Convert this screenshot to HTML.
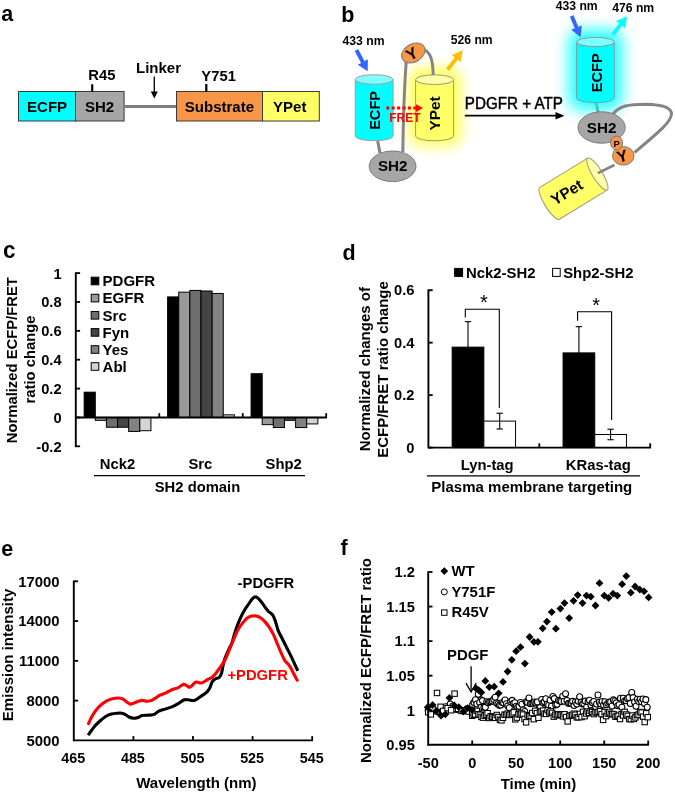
<!DOCTYPE html><html><head><meta charset="utf-8"><style>html,body{margin:0;padding:0;background:#fff;}svg{display:block;font-family:"Liberation Sans", sans-serif;filter:blur(0.4px);}</style></head><body><svg width="675" height="795" viewBox="0 0 675 795"><rect width="675" height="795" fill="#fff"/><text x="1.3" y="21.0" font-size="21.5" font-weight="bold" text-anchor="start" fill="#000">a</text>
<rect x="18.5" y="91.5" width="57" height="29.5" fill="#00FFFF" stroke="#3a3a3a" stroke-width="1"/>
<rect x="75.5" y="91.5" width="48.6" height="29.5" fill="#A6A6A6" stroke="#3a3a3a" stroke-width="1"/>
<line x1="124.1" y1="106.5" x2="176.5" y2="106.5" stroke="#7f7f7f" stroke-width="3.2"/>
<rect x="176.5" y="91.5" width="86" height="29.5" fill="#F79646" stroke="#3a3a3a" stroke-width="1"/>
<rect x="262.5" y="91.5" width="56.8" height="29.5" fill="#FFFF66" stroke="#3a3a3a" stroke-width="1"/>
<text x="47.1" y="111.8" font-size="15.0" font-weight="bold" text-anchor="middle" fill="#000">ECFP</text>
<text x="99.6" y="111.8" font-size="15.0" font-weight="bold" text-anchor="middle" fill="#000">SH2</text>
<text x="219.4" y="111.8" font-size="15.0" font-weight="bold" text-anchor="middle" fill="#000">Substrate</text>
<text x="289.8" y="111.8" font-size="15.0" font-weight="bold" text-anchor="middle" fill="#000">YPet</text>
<text x="101.8" y="80.4" font-size="14.8" font-weight="bold" text-anchor="middle" fill="#000">R45</text>
<line x1="92.2" y1="84.3" x2="92.2" y2="91.5" stroke="#000" stroke-width="2.2"/>
<text x="158.5" y="72.8" font-size="15.0" font-weight="bold" text-anchor="middle" fill="#000">Linker</text>
<line x1="154.3" y1="76.5" x2="154.3" y2="92" stroke="#000" stroke-width="1.3"/>
<path d="M150.8,91.5 L157.8,91.5 L154.3,98.5 Z" fill="#000" stroke="none" stroke-width="1"/>
<text x="218.6" y="80.5" font-size="14.8" font-weight="bold" text-anchor="middle" fill="#000">Y751</text>
<line x1="206.3" y1="84.0" x2="206.3" y2="91.5" stroke="#000" stroke-width="2.2"/>
<text x="341.3" y="22.2" font-size="21.5" font-weight="bold" text-anchor="start" fill="#000">b</text>
<defs><filter id="gl" x="-50%" y="-50%" width="200%" height="200%"><feGaussianBlur stdDeviation="7"/></filter><filter id="gl2" x="-50%" y="-50%" width="200%" height="200%"><feGaussianBlur stdDeviation="7.5"/></filter></defs>
<path d="M595.7,101 L598.3,113" fill="none" stroke="#858585" stroke-width="3"/>
<rect x="409" y="68" width="52" height="78" fill="#FFFF40" stroke="none" stroke-width="1" rx="12" filter="url(#gl)" opacity="0.9"/>
<rect x="569" y="30" width="53" height="80" fill="#00FFFF" stroke="none" stroke-width="1" rx="12" filter="url(#gl2)" opacity="0.9"/>
<path d="M377.3,139 L380,153" fill="none" stroke="#858585" stroke-width="3"/>
<path d="M406.2,61 Q403.5,100 402.8,152" fill="none" stroke="#858585" stroke-width="3"/>
<path d="M422.5,48.5 C430,52 433.2,58 433.2,77" fill="none" stroke="#858585" stroke-width="3"/>
<path d="M355.2,79.5 L355.2,136 A18.950000000000017,4.8 0 0 0 393.1,136 L393.1,79.5 Z" fill="#00FFFF" stroke="#b09a9a" stroke-width="1"/>
<ellipse cx="374.15" cy="79.5" rx="18.950000000000017" ry="4.8" fill="#7FFFFF" stroke="#b09a9a" stroke-width="1"/>
<path d="M415.6,79.7 L415.6,136 A19.0,4.8 0 0 0 453.6,136 L453.6,79.7 Z" fill="#FFFF66" stroke="#9a9a80" stroke-width="1"/>
<ellipse cx="434.6" cy="79.7" rx="19.0" ry="4.8" fill="#FFFFAA" stroke="#9a9a80" stroke-width="1"/>
<ellipse cx="392.6" cy="166.3" rx="23.4" ry="15.3" fill="#A6A6A6" stroke="#7a7a7a" stroke-width="1"/>
<text x="392.7" y="171.3" font-size="15.2" font-weight="bold" text-anchor="middle" fill="#000">SH2</text>
<ellipse cx="413.3" cy="53" rx="12.5" ry="9" fill="#F79646" stroke="#7a7a7a" stroke-width="1" transform="rotate(-30 413.3 53)"/>
<text x="414.6" y="58.6" font-size="16" font-weight="bold" text-anchor="middle" fill="#000" transform="rotate(-30 414.6 58.6)">Y</text>
<text x="380.2" y="110.4" font-size="14.6" font-weight="bold" text-anchor="middle" fill="#000" transform="rotate(-90 380.2 110.4)">ECFP</text>
<text x="440.2" y="113.5" font-size="15.4" font-weight="bold" text-anchor="middle" fill="#000" transform="rotate(-90 440.2 113.5)">YPet</text>
<path d="M354.68,50.91 L361.06,62.94 L357.70,64.72 L367.70,71.30 L367.86,59.33 L364.50,61.11 L358.12,49.09 Z" fill="#3366FF" stroke="none" stroke-width="1"/>
<text x="342.5" y="44.6" font-size="12.2" font-weight="bold" text-anchor="start" fill="#000">433 nm</text>
<text x="450.7" y="44.3" font-size="12.2" font-weight="bold" text-anchor="start" fill="#000">526 nm</text>
<path d="M449.14,70.90 L457.79,59.78 L460.79,62.12 L462.70,50.30 L451.71,55.05 L454.71,57.39 L446.06,68.50 Z" fill="#FFC000" stroke="none" stroke-width="1"/>
<line x1="386.3" y1="108.1" x2="416" y2="108.1" stroke="#FF0000" stroke-width="3" stroke-dasharray="3 2.4"/>
<path d="M416,104.2 L423,108.1 L416,112 Z" fill="#FF0000" stroke="none" stroke-width="1"/>
<text x="389.2" y="122.3" font-size="12" font-weight="bold" text-anchor="start" fill="#FF0000">FRET</text>
<text x="0" y="0" font-size="15.2" font-weight="normal" text-anchor="start" fill="#000" transform="translate(464.8 108.6) scale(1.0 1.08)" stroke="#000" stroke-width="0.45">PDGFR + ATP</text>
<line x1="464.8" y1="115.7" x2="557" y2="115.7" stroke="#000" stroke-width="1.8"/>
<path d="M555.5,111.9 L564.5,115.7 L555.5,119.5 Z" fill="#000" stroke="none" stroke-width="1"/>
<path d="M613,114 C620,105.5 628,104.5 646,104.2 C660,104.5 671.5,107 671.5,114 C671,122 660,131 634.5,152.5" fill="none" stroke="#858585" stroke-width="3"/>
<path d="M576.6,42 L576.6,98 A18.849999999999966,4.6 0 0 0 614.3,98 L614.3,42 Z" fill="#00FFFF" stroke="#8c9a9a" stroke-width="1"/>
<ellipse cx="595.45" cy="42" rx="18.849999999999966" ry="4.6" fill="#7FFFFF" stroke="#8c9a9a" stroke-width="1"/>
<text x="602.4" y="72.7" font-size="14.6" font-weight="bold" text-anchor="middle" fill="#000" transform="rotate(-90 602.4 72.7)">ECFP</text>
<text x="555.7" y="10.3" font-size="12.2" font-weight="bold" text-anchor="start" fill="#000">433 nm</text>
<text x="612.2" y="12.1" font-size="12.2" font-weight="bold" text-anchor="start" fill="#000">476 nm</text>
<path d="M569.90,16.75 L574.75,28.36 L571.25,29.83 L580.60,37.30 L581.86,25.39 L578.35,26.86 L573.50,15.25 Z" fill="#3366FF" stroke="none" stroke-width="1"/>
<path d="M614.13,35.91 L622.11,25.84 L625.09,28.20 L627.10,16.40 L616.07,21.06 L619.05,23.42 L611.07,33.49 Z" fill="#00FFFF" stroke="none" stroke-width="1"/>
<ellipse cx="601.6" cy="127.5" rx="23.6" ry="15.7" fill="#A6A6A6" stroke="#7a7a7a" stroke-width="1"/>
<text x="601.6" y="132.6" font-size="15.2" font-weight="bold" text-anchor="middle" fill="#000">SH2</text>
<path d="M597.9,173.2 L614.5,165" fill="none" stroke="#858585" stroke-width="2.6"/>
<g transform="translate(597.4 174.1) rotate(-31.4)">
<path d="M0,-18.7 L-56,-18.7 A5,18.7 0 0 0 -56,18.7 L0,18.7 Z" fill="#FFFF66" stroke="#9a9a80" stroke-width="1"/>
<ellipse cx="0" cy="0" rx="5" ry="18.7" fill="#FFFFAA" stroke="#9a9a80" stroke-width="1"/>
</g>
<path d="M597.9,173.2 L604,170.2" fill="none" stroke="#858585" stroke-width="2.6"/>
<text x="569.6" y="196.8" font-size="15.4" font-weight="bold" text-anchor="middle" fill="#000" transform="rotate(-31.4 569.6 196.8)">YPet</text>
<ellipse cx="623.3" cy="155.8" rx="10.8" ry="9.3" fill="#F79646" stroke="#7a7a7a" stroke-width="1"/>
<ellipse cx="616.6" cy="143" rx="6" ry="6.9" fill="#F79646" stroke="#7a7a7a" stroke-width="1"/>
<text x="616.6" y="146.6" font-size="9.5" font-weight="bold" text-anchor="middle" fill="#000">P</text>
<text x="623.6" y="161.3" font-size="16" font-weight="bold" text-anchor="middle" fill="#000" transform="rotate(-15 623.6 161.3)">Y</text>
<text x="0" y="0" font-size="22.5" font-weight="bold" text-anchor="start" fill="#000" transform="translate(3.0 257.8) scale(1.0 1.08)">c</text>
<rect x="84.15" y="392.18" width="11.13" height="25.26" fill="#000000" stroke="#000" stroke-width="1"/>
<rect x="95.28" y="417.43" width="11.13" height="2.89" fill="#9a9a9a" stroke="#000" stroke-width="1"/>
<rect x="106.4" y="417.43" width="11.13" height="9.81" fill="#6e6e6e" stroke="#000" stroke-width="1"/>
<rect x="117.53" y="417.43" width="11.13" height="9.81" fill="#454545" stroke="#000" stroke-width="1"/>
<rect x="128.66" y="417.43" width="11.13" height="14.0" fill="#828282" stroke="#000" stroke-width="1"/>
<rect x="139.79" y="417.43" width="11.13" height="13.28" fill="#d4d4d4" stroke="#000" stroke-width="1"/>
<rect x="167.61" y="296.92" width="11.13" height="120.52" fill="#000000" stroke="#000" stroke-width="1"/>
<rect x="178.74" y="292.15" width="11.13" height="125.28" fill="#9a9a9a" stroke="#000" stroke-width="1"/>
<rect x="189.87" y="290.42" width="11.13" height="127.01" fill="#6e6e6e" stroke="#000" stroke-width="1"/>
<rect x="201.0" y="291.0" width="11.13" height="126.44" fill="#454545" stroke="#000" stroke-width="1"/>
<rect x="212.13" y="293.45" width="11.13" height="123.98" fill="#828282" stroke="#000" stroke-width="1"/>
<rect x="223.26" y="414.84" width="11.13" height="2.6" fill="#d4d4d4" stroke="#000" stroke-width="1"/>
<rect x="251.08" y="373.7" width="11.13" height="43.73" fill="#000000" stroke="#000" stroke-width="1"/>
<rect x="262.21" y="417.43" width="11.13" height="7.22" fill="#9a9a9a" stroke="#000" stroke-width="1"/>
<rect x="273.34" y="417.43" width="11.13" height="10.1" fill="#6e6e6e" stroke="#000" stroke-width="1"/>
<rect x="284.47" y="417.43" width="11.13" height="2.89" fill="#454545" stroke="#000" stroke-width="1"/>
<rect x="295.6" y="417.43" width="11.13" height="10.1" fill="#828282" stroke="#000" stroke-width="1"/>
<rect x="306.72" y="417.43" width="11.13" height="6.5" fill="#d4d4d4" stroke="#000" stroke-width="1"/>
<line x1="75.8" y1="272.35" x2="75.8" y2="447.05" stroke="#000" stroke-width="1.9"/>
<line x1="75.8" y1="273.1" x2="80.1" y2="273.1" stroke="#000" stroke-width="1.8"/>
<line x1="75.8" y1="301.9666666666667" x2="80.1" y2="301.9666666666667" stroke="#000" stroke-width="1.8"/>
<line x1="75.8" y1="330.83333333333337" x2="80.1" y2="330.83333333333337" stroke="#000" stroke-width="1.8"/>
<line x1="75.8" y1="359.70000000000005" x2="80.1" y2="359.70000000000005" stroke="#000" stroke-width="1.8"/>
<line x1="75.8" y1="388.5666666666667" x2="80.1" y2="388.5666666666667" stroke="#000" stroke-width="1.8"/>
<line x1="75.8" y1="417.4333333333334" x2="80.1" y2="417.4333333333334" stroke="#000" stroke-width="1.8"/>
<line x1="75.8" y1="446.30000000000007" x2="80.1" y2="446.30000000000007" stroke="#000" stroke-width="1.8"/>
<text x="0" y="0" font-size="14.7" font-weight="bold" text-anchor="end" fill="#000" transform="translate(61.6 278.5) scale(1.0 1.02)">1</text>
<text x="0" y="0" font-size="14.7" font-weight="bold" text-anchor="end" fill="#000" transform="translate(61.6 307.3666666666667) scale(1.0 1.02)">0.8</text>
<text x="0" y="0" font-size="14.7" font-weight="bold" text-anchor="end" fill="#000" transform="translate(61.6 336.23333333333335) scale(1.0 1.02)">0.6</text>
<text x="0" y="0" font-size="14.7" font-weight="bold" text-anchor="end" fill="#000" transform="translate(61.6 365.1) scale(1.0 1.02)">0.4</text>
<text x="0" y="0" font-size="14.7" font-weight="bold" text-anchor="end" fill="#000" transform="translate(61.6 393.9666666666667) scale(1.0 1.02)">0.2</text>
<text x="0" y="0" font-size="14.7" font-weight="bold" text-anchor="end" fill="#000" transform="translate(61.6 422.83333333333337) scale(1.0 1.02)">0</text>
<text x="0" y="0" font-size="14.7" font-weight="bold" text-anchor="end" fill="#000" transform="translate(61.6 451.70000000000005) scale(1.0 1.02)">-0.2</text>
<line x1="75.8" y1="417.4333333333334" x2="326.95" y2="417.4333333333334" stroke="#000" stroke-width="1.9"/>
<line x1="159.26666666666665" y1="417.4333333333334" x2="159.26666666666665" y2="413.1333333333334" stroke="#000" stroke-width="1.8"/>
<line x1="242.7333333333333" y1="417.4333333333334" x2="242.7333333333333" y2="413.1333333333334" stroke="#000" stroke-width="1.8"/>
<line x1="326.2" y1="417.4333333333334" x2="326.2" y2="413.1333333333334" stroke="#000" stroke-width="1.8"/>
<rect x="91.2" y="277.2" width="7.6" height="7.6" fill="#000000" stroke="#000" stroke-width="1"/>
<text x="102.6" y="286.2" font-size="15.0" font-weight="bold" text-anchor="start" fill="#000">PDGFR</text>
<rect x="91.2" y="294.3" width="7.6" height="7.6" fill="#9a9a9a" stroke="#000" stroke-width="1"/>
<text x="102.6" y="303.3" font-size="15.0" font-weight="bold" text-anchor="start" fill="#000">EGFR</text>
<rect x="91.2" y="311.5" width="7.6" height="7.6" fill="#6e6e6e" stroke="#000" stroke-width="1"/>
<text x="102.6" y="320.5" font-size="15.0" font-weight="bold" text-anchor="start" fill="#000">Src</text>
<rect x="91.2" y="328.59999999999997" width="7.6" height="7.6" fill="#454545" stroke="#000" stroke-width="1"/>
<text x="102.6" y="337.59999999999997" font-size="15.0" font-weight="bold" text-anchor="start" fill="#000">Fyn</text>
<rect x="91.2" y="345.7" width="7.6" height="7.6" fill="#828282" stroke="#000" stroke-width="1"/>
<text x="102.6" y="354.7" font-size="15.0" font-weight="bold" text-anchor="start" fill="#000">Yes</text>
<rect x="91.2" y="362.7" width="7.6" height="7.6" fill="#d4d4d4" stroke="#000" stroke-width="1"/>
<text x="102.6" y="371.7" font-size="15.0" font-weight="bold" text-anchor="start" fill="#000">Abl</text>
<text x="17.0" y="360.2" font-size="14.8" font-weight="bold" text-anchor="middle" fill="#000" transform="rotate(-90 17.0 360.2)">Normalized ECFP/FRET</text>
<text x="35.4" y="359.5" font-size="14.8" font-weight="bold" text-anchor="middle" fill="#000" transform="rotate(-90 35.4 359.5)">ratio change</text>
<text x="117.5" y="468.9" font-size="14.8" font-weight="bold" text-anchor="middle" fill="#000">Nck2</text>
<text x="200.4" y="468.9" font-size="14.8" font-weight="bold" text-anchor="middle" fill="#000">Src</text>
<text x="283.7" y="468.9" font-size="14.8" font-weight="bold" text-anchor="middle" fill="#000">Shp2</text>
<line x1="94" y1="475.6" x2="305" y2="475.6" stroke="#000" stroke-width="1.3"/>
<text x="197.5" y="491.9" font-size="14.8" font-weight="bold" text-anchor="middle" fill="#000">SH2 domain</text>
<text x="342.6" y="259.8" font-size="21.5" font-weight="bold" text-anchor="start" fill="#000">d</text>
<rect x="452.16" y="347.13" width="31.69" height="100.47" fill="#000" stroke="#000" stroke-width="1"/>
<rect x="483.85" y="421.1" width="31.69" height="26.5" fill="#fff" stroke="#000" stroke-width="1"/>
<line x1="468.00714285714287" y1="347.1263333333333" x2="468.00714285714287" y2="321.67999999999995" stroke="#000" stroke-width="1.1"/>
<line x1="464.8071428571429" y1="321.67999999999995" x2="471.20714285714286" y2="321.67999999999995" stroke="#000" stroke-width="1.1"/>
<line x1="499.6928571428572" y1="428.97433333333333" x2="499.6928571428572" y2="413.2343333333333" stroke="#000" stroke-width="1.1"/>
<line x1="496.4928571428572" y1="413.2343333333333" x2="502.89285714285717" y2="413.2343333333333" stroke="#000" stroke-width="1.1"/>
<line x1="496.4928571428572" y1="428.97433333333333" x2="502.89285714285717" y2="428.97433333333333" stroke="#000" stroke-width="1.1"/>
<rect x="563.06" y="352.9" width="31.69" height="94.7" fill="#000" stroke="#000" stroke-width="1"/>
<rect x="594.75" y="434.48" width="31.69" height="13.12" fill="#fff" stroke="#000" stroke-width="1"/>
<line x1="578.9071428571428" y1="352.8976666666666" x2="578.9071428571428" y2="326.66433333333333" stroke="#000" stroke-width="1.1"/>
<line x1="575.7071428571428" y1="326.66433333333333" x2="582.1071428571429" y2="326.66433333333333" stroke="#000" stroke-width="1.1"/>
<line x1="610.5928571428572" y1="439.73" x2="610.5928571428572" y2="429.2366666666667" stroke="#000" stroke-width="1.1"/>
<line x1="607.3928571428571" y1="429.2366666666667" x2="613.7928571428572" y2="429.2366666666667" stroke="#000" stroke-width="1.1"/>
<line x1="607.3928571428571" y1="439.73" x2="613.7928571428572" y2="439.73" stroke="#000" stroke-width="1.1"/>
<path d="M465.3,317.6 L465.3,309.2 L499.3,309.2 L499.3,408" fill="none" stroke="#000" stroke-width="1.1"/>
<path d="M577.6,320.8 L577.6,311.7 L611.6,311.7 L611.6,420" fill="none" stroke="#000" stroke-width="1.1"/>
<text x="483.9" y="308.9" font-size="20" font-weight="normal" text-anchor="middle" fill="#000">*</text>
<text x="596.2" y="312.0" font-size="20" font-weight="normal" text-anchor="middle" fill="#000">*</text>
<line x1="428.4" y1="289.45" x2="428.4" y2="448.35" stroke="#000" stroke-width="1.9"/>
<line x1="428.4" y1="290.2" x2="432.7" y2="290.2" stroke="#000" stroke-width="1.8"/>
<line x1="428.4" y1="342.6666666666667" x2="432.7" y2="342.6666666666667" stroke="#000" stroke-width="1.8"/>
<line x1="428.4" y1="395.1333333333334" x2="432.7" y2="395.1333333333334" stroke="#000" stroke-width="1.8"/>
<line x1="428.4" y1="447.6" x2="432.7" y2="447.6" stroke="#000" stroke-width="1.8"/>
<text x="0" y="0" font-size="14.7" font-weight="bold" text-anchor="end" fill="#000" transform="translate(414.4 295.4) scale(1.0 1.02)">0.6</text>
<text x="0" y="0" font-size="14.7" font-weight="bold" text-anchor="end" fill="#000" transform="translate(414.4 347.8666666666667) scale(1.0 1.02)">0.4</text>
<text x="0" y="0" font-size="14.7" font-weight="bold" text-anchor="end" fill="#000" transform="translate(414.4 400.33333333333337) scale(1.0 1.02)">0.2</text>
<text x="0" y="0" font-size="14.7" font-weight="bold" text-anchor="end" fill="#000" transform="translate(414.4 452.8) scale(1.0 1.02)">0</text>
<line x1="428.4" y1="447.6" x2="650.95" y2="447.6" stroke="#000" stroke-width="1.9"/>
<line x1="539.3" y1="447.6" x2="539.3" y2="443.3" stroke="#000" stroke-width="1.8"/>
<line x1="650.2" y1="447.6" x2="650.2" y2="443.3" stroke="#000" stroke-width="1.8"/>
<rect x="454.6" y="268.4" width="8" height="8" fill="#000" stroke="#000" stroke-width="1"/>
<text x="466" y="277.8" font-size="14.9" font-weight="bold" text-anchor="start" fill="#000">Nck2-SH2</text>
<rect x="552.6" y="268.4" width="7.6" height="8" fill="#fff" stroke="#000" stroke-width="1"/>
<text x="563.2" y="277.8" font-size="14.9" font-weight="bold" text-anchor="start" fill="#000">Shp2-SH2</text>
<text x="370.2" y="369.2" font-size="15.0" font-weight="bold" text-anchor="middle" fill="#000" transform="rotate(-90 370.2 369.2)">Normalized changes of</text>
<text x="387.6" y="369.5" font-size="15.0" font-weight="bold" text-anchor="middle" fill="#000" transform="rotate(-90 387.6 369.5)">ECFP/FRET ratio change</text>
<text x="487.2" y="469.6" font-size="14.8" font-weight="bold" text-anchor="middle" fill="#000">Lyn-tag</text>
<text x="598.3" y="469.6" font-size="14.8" font-weight="bold" text-anchor="middle" fill="#000">KRas-tag</text>
<line x1="427" y1="475.8" x2="640" y2="475.8" stroke="#000" stroke-width="1.3"/>
<text x="531.8" y="492.3" font-size="15.0" font-weight="bold" text-anchor="middle" fill="#000">Plasma membrane targeting</text>
<text x="1.2" y="556.3" font-size="21.5" font-weight="bold" text-anchor="start" fill="#000">e</text>
<line x1="73.8" y1="581.3" x2="78.1" y2="581.3" stroke="#000" stroke-width="1.8"/>
<text x="59.6" y="586.5999999999999" font-size="14.9" font-weight="bold" text-anchor="end" fill="#000">17000</text>
<line x1="73.8" y1="621.0749999999999" x2="78.1" y2="621.0749999999999" stroke="#000" stroke-width="1.8"/>
<text x="59.6" y="626.3749999999999" font-size="14.9" font-weight="bold" text-anchor="end" fill="#000">14000</text>
<line x1="73.8" y1="660.8499999999999" x2="78.1" y2="660.8499999999999" stroke="#000" stroke-width="1.8"/>
<text x="59.6" y="666.1499999999999" font-size="14.9" font-weight="bold" text-anchor="end" fill="#000">11000</text>
<line x1="73.8" y1="700.625" x2="78.1" y2="700.625" stroke="#000" stroke-width="1.8"/>
<text x="59.6" y="705.925" font-size="14.9" font-weight="bold" text-anchor="end" fill="#000">8000</text>
<text x="59.6" y="745.6999999999999" font-size="14.9" font-weight="bold" text-anchor="end" fill="#000">5000</text>
<line x1="73.8" y1="580.55" x2="73.8" y2="741.15" stroke="#000" stroke-width="1.9"/>
<line x1="73.05" y1="740.4" x2="312.95" y2="740.4" stroke="#000" stroke-width="1.9"/>
<text x="73.3" y="763.2" font-size="14.3" font-weight="bold" text-anchor="middle" fill="#000">465</text>
<line x1="133.4" y1="740.4" x2="133.4" y2="736.1" stroke="#000" stroke-width="1.8"/>
<text x="132.9" y="763.2" font-size="14.3" font-weight="bold" text-anchor="middle" fill="#000">485</text>
<line x1="193.0" y1="740.4" x2="193.0" y2="736.1" stroke="#000" stroke-width="1.8"/>
<text x="192.5" y="763.2" font-size="14.3" font-weight="bold" text-anchor="middle" fill="#000">505</text>
<line x1="252.6" y1="740.4" x2="252.6" y2="736.1" stroke="#000" stroke-width="1.8"/>
<text x="252.1" y="763.2" font-size="14.3" font-weight="bold" text-anchor="middle" fill="#000">525</text>
<line x1="312.2" y1="740.4" x2="312.2" y2="736.1" stroke="#000" stroke-width="1.8"/>
<text x="311.7" y="763.2" font-size="14.3" font-weight="bold" text-anchor="middle" fill="#000">545</text>
<text x="12.7" y="654.9" font-size="15" font-weight="bold" text-anchor="middle" fill="#000" transform="rotate(-90 12.7 654.9)">Emission intensity</text>
<text x="196.4" y="788.2" font-size="15" font-weight="bold" text-anchor="middle" fill="#000">Wavelength (nm)</text>
<path d="M88.10,735.10 C88.60,734.42 90.00,732.48 91.10,731.00 C92.20,729.52 93.32,727.78 94.70,726.20 C96.08,724.62 97.63,723.08 99.40,721.50 C101.17,719.92 103.32,717.93 105.30,716.70 C107.28,715.47 109.32,714.68 111.30,714.10 C113.28,713.52 115.43,713.35 117.20,713.20 C118.97,713.05 120.52,712.97 121.90,713.20 C123.28,713.43 124.32,713.97 125.50,714.60 C126.68,715.23 127.62,716.38 129.00,717.00 C130.38,717.62 132.42,718.18 133.80,718.30 C135.18,718.42 135.92,718.15 137.30,717.70 C138.68,717.25 140.52,716.02 142.10,715.60 C143.68,715.18 145.22,715.30 146.80,715.20 C148.38,715.10 150.22,715.23 151.60,715.00 C152.98,714.77 153.92,714.45 155.10,713.80 C156.28,713.15 157.32,711.80 158.70,711.10 C160.08,710.40 161.20,710.30 163.40,709.60 C165.60,708.90 169.50,707.85 171.90,706.90 C174.30,705.95 175.83,705.05 177.80,703.90 C179.77,702.75 181.93,700.68 183.70,700.00 C185.47,699.32 186.62,699.73 188.40,699.80 C190.18,699.87 192.42,700.90 194.40,700.40 C196.38,699.90 198.33,698.08 200.30,696.80 C202.27,695.52 204.62,694.18 206.20,692.70 C207.78,691.22 208.82,689.68 209.80,687.90 C210.78,686.12 211.22,683.48 212.10,682.00 C212.98,680.52 213.90,679.78 215.10,679.00 C216.30,678.22 218.22,678.28 219.30,677.30 C220.38,676.32 221.02,674.88 221.60,673.10 C222.18,671.32 222.30,668.87 222.80,666.60 C223.30,664.33 223.90,661.67 224.60,659.50 C225.30,657.33 226.18,655.52 227.00,653.60 C227.82,651.68 228.65,649.85 229.50,648.00 C230.35,646.15 231.17,645.18 232.10,642.50 C233.03,639.82 233.85,635.68 235.10,631.90 C236.35,628.12 238.08,623.32 239.60,619.80 C241.12,616.28 242.68,613.43 244.20,610.80 C245.72,608.17 247.32,606.02 248.70,604.00 C250.08,601.98 251.35,599.88 252.50,598.70 C253.65,597.52 254.60,596.90 255.60,596.90 C256.60,596.90 257.38,597.65 258.50,598.70 C259.62,599.75 261.03,601.57 262.30,603.20 C263.57,604.83 264.97,607.03 266.10,608.50 C267.23,609.97 267.97,610.87 269.10,612.00 C270.23,613.13 271.77,613.48 272.90,615.30 C274.03,617.12 275.03,620.38 275.90,622.90 C276.77,625.42 277.10,627.88 278.10,630.40 C279.10,632.92 280.52,635.23 281.90,638.00 C283.28,640.77 284.88,643.98 286.40,647.00 C287.92,650.02 289.60,653.20 291.00,656.10 C292.40,659.00 293.67,661.93 294.80,664.40 C295.93,666.87 297.30,669.82 297.80,670.90" fill="none" stroke="#000" stroke-width="3.1" stroke-linejoin="round"/>
<path d="M88.10,724.80 C88.50,723.85 89.60,720.93 90.50,719.10 C91.40,717.27 92.42,715.48 93.50,713.80 C94.58,712.12 95.62,710.58 97.00,709.00 C98.38,707.42 100.02,705.73 101.80,704.30 C103.58,702.87 105.73,701.38 107.70,700.40 C109.67,699.42 111.82,698.80 113.60,698.40 C115.38,698.00 116.82,697.87 118.40,698.00 C119.98,698.13 121.72,698.55 123.10,699.20 C124.48,699.85 125.52,701.08 126.70,701.90 C127.88,702.72 129.02,703.90 130.20,704.10 C131.38,704.30 132.42,703.57 133.80,703.10 C135.18,702.63 137.12,701.75 138.50,701.30 C139.88,700.85 140.72,700.40 142.10,700.40 C143.48,700.40 145.22,701.30 146.80,701.30 C148.38,701.30 150.22,700.88 151.60,700.40 C152.98,699.92 153.70,699.27 155.10,698.40 C156.50,697.53 158.20,696.12 160.00,695.20 C161.80,694.28 163.92,693.82 165.90,692.90 C167.88,691.98 169.92,690.53 171.90,689.70 C173.88,688.87 175.93,688.78 177.80,687.90 C179.67,687.02 181.62,684.78 183.10,684.40 C184.58,684.02 185.62,685.12 186.70,685.60 C187.78,686.08 188.62,687.40 189.60,687.30 C190.58,687.20 191.52,685.88 192.60,685.00 C193.68,684.12 194.62,682.33 196.10,682.00 C197.58,681.67 199.62,683.40 201.50,683.00 C203.38,682.60 205.63,680.55 207.40,679.60 C209.17,678.65 210.82,678.18 212.10,677.30 C213.38,676.42 214.10,675.50 215.10,674.30 C216.10,673.10 217.02,671.58 218.10,670.10 C219.18,668.62 220.42,667.17 221.60,665.40 C222.78,663.63 223.95,661.98 225.20,659.50 C226.45,657.02 227.70,653.83 229.10,650.50 C230.50,647.17 232.10,642.98 233.60,639.50 C235.10,636.02 236.58,632.37 238.10,629.60 C239.62,626.83 241.18,624.83 242.70,622.90 C244.22,620.97 245.70,619.13 247.20,618.00 C248.70,616.87 250.20,616.42 251.70,616.10 C253.20,615.78 254.68,615.78 256.20,616.10 C257.72,616.42 259.28,617.00 260.80,618.00 C262.32,619.00 263.80,620.42 265.30,622.10 C266.80,623.78 268.42,625.97 269.80,628.10 C271.18,630.23 272.33,632.25 273.60,634.90 C274.87,637.55 276.13,640.97 277.40,644.00 C278.67,647.03 279.95,650.33 281.20,653.10 C282.45,655.87 283.52,658.47 284.90,660.60 C286.28,662.73 287.98,663.63 289.50,665.90 C291.02,668.17 292.62,671.62 294.00,674.20 C295.38,676.78 297.17,680.20 297.80,681.40" fill="none" stroke="#FF0000" stroke-width="3.1" stroke-linejoin="round"/>
<text x="237.6" y="587.8" font-size="14.8" font-weight="bold" text-anchor="start" fill="#000">-PDGFR</text>
<text x="227.4" y="679.5" font-size="14.8" font-weight="bold" text-anchor="start" fill="#FF0000">+PDGFR</text>
<text x="340.6" y="554.9" font-size="21.5" font-weight="bold" text-anchor="start" fill="#000">f</text>
<circle cx="428.20" cy="710.24" r="3" fill="#fff" stroke="#000" stroke-width="1.05"/>
<circle cx="432.60" cy="708.17" r="3" fill="#fff" stroke="#000" stroke-width="1.05"/>
<circle cx="437.00" cy="711.62" r="3" fill="#fff" stroke="#000" stroke-width="1.05"/>
<circle cx="441.40" cy="708.86" r="3" fill="#fff" stroke="#000" stroke-width="1.05"/>
<circle cx="445.80" cy="706.78" r="3" fill="#fff" stroke="#000" stroke-width="1.05"/>
<circle cx="450.20" cy="704.02" r="3" fill="#fff" stroke="#000" stroke-width="1.05"/>
<circle cx="452.84" cy="706.09" r="3" fill="#fff" stroke="#000" stroke-width="1.05"/>
<circle cx="456.36" cy="709.55" r="3" fill="#fff" stroke="#000" stroke-width="1.05"/>
<circle cx="459.88" cy="710.24" r="3" fill="#fff" stroke="#000" stroke-width="1.05"/>
<circle cx="463.40" cy="710.93" r="3" fill="#fff" stroke="#000" stroke-width="1.05"/>
<circle cx="466.92" cy="708.86" r="3" fill="#fff" stroke="#000" stroke-width="1.05"/>
<circle cx="470.44" cy="709.55" r="3" fill="#fff" stroke="#000" stroke-width="1.05"/>
<circle cx="473.96" cy="702.64" r="3" fill="#fff" stroke="#000" stroke-width="1.05"/>
<circle cx="481.00" cy="699.87" r="3" fill="#fff" stroke="#000" stroke-width="1.05"/>
<circle cx="472.64" cy="704.63" r="3" fill="#fff" stroke="#000" stroke-width="1.05"/>
<circle cx="474.05" cy="702.44" r="3" fill="#fff" stroke="#000" stroke-width="1.05"/>
<circle cx="475.46" cy="699.83" r="3" fill="#fff" stroke="#000" stroke-width="1.05"/>
<circle cx="476.86" cy="703.99" r="3" fill="#fff" stroke="#000" stroke-width="1.05"/>
<circle cx="478.27" cy="694.33" r="3" fill="#fff" stroke="#000" stroke-width="1.05"/>
<circle cx="479.68" cy="702.47" r="3" fill="#fff" stroke="#000" stroke-width="1.05"/>
<circle cx="481.09" cy="707.36" r="3" fill="#fff" stroke="#000" stroke-width="1.05"/>
<circle cx="482.50" cy="700.61" r="3" fill="#fff" stroke="#000" stroke-width="1.05"/>
<circle cx="483.90" cy="707.19" r="3" fill="#fff" stroke="#000" stroke-width="1.05"/>
<circle cx="485.31" cy="707.24" r="3" fill="#fff" stroke="#000" stroke-width="1.05"/>
<circle cx="486.72" cy="701.78" r="3" fill="#fff" stroke="#000" stroke-width="1.05"/>
<circle cx="488.13" cy="702.65" r="3" fill="#fff" stroke="#000" stroke-width="1.05"/>
<circle cx="489.54" cy="701.69" r="3" fill="#fff" stroke="#000" stroke-width="1.05"/>
<circle cx="490.94" cy="701.46" r="3" fill="#fff" stroke="#000" stroke-width="1.05"/>
<circle cx="492.35" cy="701.04" r="3" fill="#fff" stroke="#000" stroke-width="1.05"/>
<circle cx="493.76" cy="699.39" r="3" fill="#fff" stroke="#000" stroke-width="1.05"/>
<circle cx="495.17" cy="697.27" r="3" fill="#fff" stroke="#000" stroke-width="1.05"/>
<circle cx="496.58" cy="702.94" r="3" fill="#fff" stroke="#000" stroke-width="1.05"/>
<circle cx="497.98" cy="703.92" r="3" fill="#fff" stroke="#000" stroke-width="1.05"/>
<circle cx="499.39" cy="705.36" r="3" fill="#fff" stroke="#000" stroke-width="1.05"/>
<circle cx="500.80" cy="705.09" r="3" fill="#fff" stroke="#000" stroke-width="1.05"/>
<circle cx="502.21" cy="702.46" r="3" fill="#fff" stroke="#000" stroke-width="1.05"/>
<circle cx="503.62" cy="703.11" r="3" fill="#fff" stroke="#000" stroke-width="1.05"/>
<circle cx="505.02" cy="699.96" r="3" fill="#fff" stroke="#000" stroke-width="1.05"/>
<circle cx="506.43" cy="703.82" r="3" fill="#fff" stroke="#000" stroke-width="1.05"/>
<circle cx="507.84" cy="705.85" r="3" fill="#fff" stroke="#000" stroke-width="1.05"/>
<circle cx="509.25" cy="707.71" r="3" fill="#fff" stroke="#000" stroke-width="1.05"/>
<circle cx="510.66" cy="701.84" r="3" fill="#fff" stroke="#000" stroke-width="1.05"/>
<circle cx="512.06" cy="700.39" r="3" fill="#fff" stroke="#000" stroke-width="1.05"/>
<circle cx="513.47" cy="703.36" r="3" fill="#fff" stroke="#000" stroke-width="1.05"/>
<circle cx="514.88" cy="702.84" r="3" fill="#fff" stroke="#000" stroke-width="1.05"/>
<circle cx="516.29" cy="706.18" r="3" fill="#fff" stroke="#000" stroke-width="1.05"/>
<circle cx="517.70" cy="707.23" r="3" fill="#fff" stroke="#000" stroke-width="1.05"/>
<circle cx="519.10" cy="706.18" r="3" fill="#fff" stroke="#000" stroke-width="1.05"/>
<circle cx="520.51" cy="702.47" r="3" fill="#fff" stroke="#000" stroke-width="1.05"/>
<circle cx="521.92" cy="704.29" r="3" fill="#fff" stroke="#000" stroke-width="1.05"/>
<circle cx="523.33" cy="709.95" r="3" fill="#fff" stroke="#000" stroke-width="1.05"/>
<circle cx="524.74" cy="711.59" r="3" fill="#fff" stroke="#000" stroke-width="1.05"/>
<circle cx="526.14" cy="701.70" r="3" fill="#fff" stroke="#000" stroke-width="1.05"/>
<circle cx="527.55" cy="702.39" r="3" fill="#fff" stroke="#000" stroke-width="1.05"/>
<circle cx="528.96" cy="698.05" r="3" fill="#fff" stroke="#000" stroke-width="1.05"/>
<circle cx="530.37" cy="703.71" r="3" fill="#fff" stroke="#000" stroke-width="1.05"/>
<circle cx="531.78" cy="703.41" r="3" fill="#fff" stroke="#000" stroke-width="1.05"/>
<circle cx="533.18" cy="703.23" r="3" fill="#fff" stroke="#000" stroke-width="1.05"/>
<circle cx="534.59" cy="702.04" r="3" fill="#fff" stroke="#000" stroke-width="1.05"/>
<circle cx="536.00" cy="703.02" r="3" fill="#fff" stroke="#000" stroke-width="1.05"/>
<circle cx="537.41" cy="702.06" r="3" fill="#fff" stroke="#000" stroke-width="1.05"/>
<circle cx="538.82" cy="708.87" r="3" fill="#fff" stroke="#000" stroke-width="1.05"/>
<circle cx="540.22" cy="707.39" r="3" fill="#fff" stroke="#000" stroke-width="1.05"/>
<circle cx="541.63" cy="699.54" r="3" fill="#fff" stroke="#000" stroke-width="1.05"/>
<circle cx="543.04" cy="702.73" r="3" fill="#fff" stroke="#000" stroke-width="1.05"/>
<circle cx="544.45" cy="701.70" r="3" fill="#fff" stroke="#000" stroke-width="1.05"/>
<circle cx="545.86" cy="698.74" r="3" fill="#fff" stroke="#000" stroke-width="1.05"/>
<circle cx="547.26" cy="704.14" r="3" fill="#fff" stroke="#000" stroke-width="1.05"/>
<circle cx="548.67" cy="705.19" r="3" fill="#fff" stroke="#000" stroke-width="1.05"/>
<circle cx="550.08" cy="700.23" r="3" fill="#fff" stroke="#000" stroke-width="1.05"/>
<circle cx="551.49" cy="706.19" r="3" fill="#fff" stroke="#000" stroke-width="1.05"/>
<circle cx="552.90" cy="696.56" r="3" fill="#fff" stroke="#000" stroke-width="1.05"/>
<circle cx="554.30" cy="698.61" r="3" fill="#fff" stroke="#000" stroke-width="1.05"/>
<circle cx="555.71" cy="704.88" r="3" fill="#fff" stroke="#000" stroke-width="1.05"/>
<circle cx="557.12" cy="704.16" r="3" fill="#fff" stroke="#000" stroke-width="1.05"/>
<circle cx="558.53" cy="700.36" r="3" fill="#fff" stroke="#000" stroke-width="1.05"/>
<circle cx="559.94" cy="701.06" r="3" fill="#fff" stroke="#000" stroke-width="1.05"/>
<circle cx="561.34" cy="701.57" r="3" fill="#fff" stroke="#000" stroke-width="1.05"/>
<circle cx="562.75" cy="696.17" r="3" fill="#fff" stroke="#000" stroke-width="1.05"/>
<circle cx="564.16" cy="701.21" r="3" fill="#fff" stroke="#000" stroke-width="1.05"/>
<circle cx="565.57" cy="693.74" r="3" fill="#fff" stroke="#000" stroke-width="1.05"/>
<circle cx="566.98" cy="700.53" r="3" fill="#fff" stroke="#000" stroke-width="1.05"/>
<circle cx="568.38" cy="703.21" r="3" fill="#fff" stroke="#000" stroke-width="1.05"/>
<circle cx="569.79" cy="703.15" r="3" fill="#fff" stroke="#000" stroke-width="1.05"/>
<circle cx="571.20" cy="703.16" r="3" fill="#fff" stroke="#000" stroke-width="1.05"/>
<circle cx="572.61" cy="701.38" r="3" fill="#fff" stroke="#000" stroke-width="1.05"/>
<circle cx="574.02" cy="705.48" r="3" fill="#fff" stroke="#000" stroke-width="1.05"/>
<circle cx="575.42" cy="702.03" r="3" fill="#fff" stroke="#000" stroke-width="1.05"/>
<circle cx="576.83" cy="703.95" r="3" fill="#fff" stroke="#000" stroke-width="1.05"/>
<circle cx="578.24" cy="701.25" r="3" fill="#fff" stroke="#000" stroke-width="1.05"/>
<circle cx="579.65" cy="696.75" r="3" fill="#fff" stroke="#000" stroke-width="1.05"/>
<circle cx="581.06" cy="702.36" r="3" fill="#fff" stroke="#000" stroke-width="1.05"/>
<circle cx="582.46" cy="704.04" r="3" fill="#fff" stroke="#000" stroke-width="1.05"/>
<circle cx="583.87" cy="703.76" r="3" fill="#fff" stroke="#000" stroke-width="1.05"/>
<circle cx="585.28" cy="701.10" r="3" fill="#fff" stroke="#000" stroke-width="1.05"/>
<circle cx="586.69" cy="706.95" r="3" fill="#fff" stroke="#000" stroke-width="1.05"/>
<circle cx="588.10" cy="701.76" r="3" fill="#fff" stroke="#000" stroke-width="1.05"/>
<circle cx="589.50" cy="700.20" r="3" fill="#fff" stroke="#000" stroke-width="1.05"/>
<circle cx="590.91" cy="705.11" r="3" fill="#fff" stroke="#000" stroke-width="1.05"/>
<circle cx="592.32" cy="702.65" r="3" fill="#fff" stroke="#000" stroke-width="1.05"/>
<circle cx="593.73" cy="701.49" r="3" fill="#fff" stroke="#000" stroke-width="1.05"/>
<circle cx="595.14" cy="708.20" r="3" fill="#fff" stroke="#000" stroke-width="1.05"/>
<circle cx="596.54" cy="703.95" r="3" fill="#fff" stroke="#000" stroke-width="1.05"/>
<circle cx="597.95" cy="695.06" r="3" fill="#fff" stroke="#000" stroke-width="1.05"/>
<circle cx="599.36" cy="702.30" r="3" fill="#fff" stroke="#000" stroke-width="1.05"/>
<circle cx="600.77" cy="703.98" r="3" fill="#fff" stroke="#000" stroke-width="1.05"/>
<circle cx="602.18" cy="701.54" r="3" fill="#fff" stroke="#000" stroke-width="1.05"/>
<circle cx="603.58" cy="704.98" r="3" fill="#fff" stroke="#000" stroke-width="1.05"/>
<circle cx="604.99" cy="701.71" r="3" fill="#fff" stroke="#000" stroke-width="1.05"/>
<circle cx="606.40" cy="704.69" r="3" fill="#fff" stroke="#000" stroke-width="1.05"/>
<circle cx="607.81" cy="703.27" r="3" fill="#fff" stroke="#000" stroke-width="1.05"/>
<circle cx="609.22" cy="702.03" r="3" fill="#fff" stroke="#000" stroke-width="1.05"/>
<circle cx="610.62" cy="701.94" r="3" fill="#fff" stroke="#000" stroke-width="1.05"/>
<circle cx="612.03" cy="705.92" r="3" fill="#fff" stroke="#000" stroke-width="1.05"/>
<circle cx="613.44" cy="699.89" r="3" fill="#fff" stroke="#000" stroke-width="1.05"/>
<circle cx="614.85" cy="701.07" r="3" fill="#fff" stroke="#000" stroke-width="1.05"/>
<circle cx="616.26" cy="702.85" r="3" fill="#fff" stroke="#000" stroke-width="1.05"/>
<circle cx="617.66" cy="705.67" r="3" fill="#fff" stroke="#000" stroke-width="1.05"/>
<circle cx="619.07" cy="704.83" r="3" fill="#fff" stroke="#000" stroke-width="1.05"/>
<circle cx="620.48" cy="698.22" r="3" fill="#fff" stroke="#000" stroke-width="1.05"/>
<circle cx="621.89" cy="707.34" r="3" fill="#fff" stroke="#000" stroke-width="1.05"/>
<circle cx="623.30" cy="698.31" r="3" fill="#fff" stroke="#000" stroke-width="1.05"/>
<circle cx="624.70" cy="700.82" r="3" fill="#fff" stroke="#000" stroke-width="1.05"/>
<circle cx="626.11" cy="700.66" r="3" fill="#fff" stroke="#000" stroke-width="1.05"/>
<circle cx="627.52" cy="698.64" r="3" fill="#fff" stroke="#000" stroke-width="1.05"/>
<circle cx="628.93" cy="697.63" r="3" fill="#fff" stroke="#000" stroke-width="1.05"/>
<circle cx="630.34" cy="703.42" r="3" fill="#fff" stroke="#000" stroke-width="1.05"/>
<circle cx="631.74" cy="692.51" r="3" fill="#fff" stroke="#000" stroke-width="1.05"/>
<circle cx="633.15" cy="697.63" r="3" fill="#fff" stroke="#000" stroke-width="1.05"/>
<circle cx="634.56" cy="702.06" r="3" fill="#fff" stroke="#000" stroke-width="1.05"/>
<circle cx="635.97" cy="706.24" r="3" fill="#fff" stroke="#000" stroke-width="1.05"/>
<circle cx="637.38" cy="699.25" r="3" fill="#fff" stroke="#000" stroke-width="1.05"/>
<circle cx="638.78" cy="701.48" r="3" fill="#fff" stroke="#000" stroke-width="1.05"/>
<circle cx="640.19" cy="699.33" r="3" fill="#fff" stroke="#000" stroke-width="1.05"/>
<circle cx="641.60" cy="701.77" r="3" fill="#fff" stroke="#000" stroke-width="1.05"/>
<circle cx="643.01" cy="698.98" r="3" fill="#fff" stroke="#000" stroke-width="1.05"/>
<circle cx="644.42" cy="703.59" r="3" fill="#fff" stroke="#000" stroke-width="1.05"/>
<circle cx="645.82" cy="699.64" r="3" fill="#fff" stroke="#000" stroke-width="1.05"/>
<circle cx="647.23" cy="707.25" r="3" fill="#fff" stroke="#000" stroke-width="1.05"/>
<rect x="425.5" y="709.61" width="5.4" height="5.4" fill="#fff" stroke="#000" stroke-width="1.05"/>
<rect x="428.14" y="711.69" width="5.4" height="5.4" fill="#fff" stroke="#000" stroke-width="1.05"/>
<rect x="434.3" y="690.26" width="5.4" height="5.4" fill="#fff" stroke="#000" stroke-width="1.05"/>
<rect x="437.82" y="704.08" width="5.4" height="5.4" fill="#fff" stroke="#000" stroke-width="1.05"/>
<rect x="440.46" y="708.23" width="5.4" height="5.4" fill="#fff" stroke="#000" stroke-width="1.05"/>
<rect x="444.86" y="705.47" width="5.4" height="5.4" fill="#fff" stroke="#000" stroke-width="1.05"/>
<rect x="448.38" y="707.54" width="5.4" height="5.4" fill="#fff" stroke="#000" stroke-width="1.05"/>
<rect x="451.9" y="690.95" width="5.4" height="5.4" fill="#fff" stroke="#000" stroke-width="1.05"/>
<rect x="455.42" y="706.16" width="5.4" height="5.4" fill="#fff" stroke="#000" stroke-width="1.05"/>
<rect x="458.94" y="708.23" width="5.4" height="5.4" fill="#fff" stroke="#000" stroke-width="1.05"/>
<rect x="462.46" y="707.54" width="5.4" height="5.4" fill="#fff" stroke="#000" stroke-width="1.05"/>
<rect x="465.98" y="708.92" width="5.4" height="5.4" fill="#fff" stroke="#000" stroke-width="1.05"/>
<rect x="469.5" y="713.07" width="5.4" height="5.4" fill="#fff" stroke="#000" stroke-width="1.05"/>
<rect x="469.5" y="709.78" width="5.4" height="5.4" fill="#fff" stroke="#000" stroke-width="1.05"/>
<rect x="471.04" y="712.14" width="5.4" height="5.4" fill="#fff" stroke="#000" stroke-width="1.05"/>
<rect x="472.58" y="711.76" width="5.4" height="5.4" fill="#fff" stroke="#000" stroke-width="1.05"/>
<rect x="474.12" y="708.2" width="5.4" height="5.4" fill="#fff" stroke="#000" stroke-width="1.05"/>
<rect x="475.66" y="711.57" width="5.4" height="5.4" fill="#fff" stroke="#000" stroke-width="1.05"/>
<rect x="477.2" y="712.05" width="5.4" height="5.4" fill="#fff" stroke="#000" stroke-width="1.05"/>
<rect x="478.74" y="714.15" width="5.4" height="5.4" fill="#fff" stroke="#000" stroke-width="1.05"/>
<rect x="480.28" y="714.96" width="5.4" height="5.4" fill="#fff" stroke="#000" stroke-width="1.05"/>
<rect x="481.82" y="713.02" width="5.4" height="5.4" fill="#fff" stroke="#000" stroke-width="1.05"/>
<rect x="483.36" y="711.95" width="5.4" height="5.4" fill="#fff" stroke="#000" stroke-width="1.05"/>
<rect x="484.9" y="710.53" width="5.4" height="5.4" fill="#fff" stroke="#000" stroke-width="1.05"/>
<rect x="486.44" y="715.26" width="5.4" height="5.4" fill="#fff" stroke="#000" stroke-width="1.05"/>
<rect x="487.98" y="713.61" width="5.4" height="5.4" fill="#fff" stroke="#000" stroke-width="1.05"/>
<rect x="489.52" y="714.28" width="5.4" height="5.4" fill="#fff" stroke="#000" stroke-width="1.05"/>
<rect x="491.06" y="714.18" width="5.4" height="5.4" fill="#fff" stroke="#000" stroke-width="1.05"/>
<rect x="492.6" y="715.12" width="5.4" height="5.4" fill="#fff" stroke="#000" stroke-width="1.05"/>
<rect x="494.14" y="712.28" width="5.4" height="5.4" fill="#fff" stroke="#000" stroke-width="1.05"/>
<rect x="495.68" y="714.36" width="5.4" height="5.4" fill="#fff" stroke="#000" stroke-width="1.05"/>
<rect x="497.22" y="717.0" width="5.4" height="5.4" fill="#fff" stroke="#000" stroke-width="1.05"/>
<rect x="498.76" y="717.67" width="5.4" height="5.4" fill="#fff" stroke="#000" stroke-width="1.05"/>
<rect x="500.3" y="715.13" width="5.4" height="5.4" fill="#fff" stroke="#000" stroke-width="1.05"/>
<rect x="501.84" y="711.99" width="5.4" height="5.4" fill="#fff" stroke="#000" stroke-width="1.05"/>
<rect x="503.38" y="712.09" width="5.4" height="5.4" fill="#fff" stroke="#000" stroke-width="1.05"/>
<rect x="504.92" y="710.97" width="5.4" height="5.4" fill="#fff" stroke="#000" stroke-width="1.05"/>
<rect x="506.46" y="712.26" width="5.4" height="5.4" fill="#fff" stroke="#000" stroke-width="1.05"/>
<rect x="508.0" y="711.76" width="5.4" height="5.4" fill="#fff" stroke="#000" stroke-width="1.05"/>
<rect x="509.54" y="710.9" width="5.4" height="5.4" fill="#fff" stroke="#000" stroke-width="1.05"/>
<rect x="511.08" y="709.59" width="5.4" height="5.4" fill="#fff" stroke="#000" stroke-width="1.05"/>
<rect x="512.62" y="716.64" width="5.4" height="5.4" fill="#fff" stroke="#000" stroke-width="1.05"/>
<rect x="514.16" y="714.9" width="5.4" height="5.4" fill="#fff" stroke="#000" stroke-width="1.05"/>
<rect x="515.7" y="711.62" width="5.4" height="5.4" fill="#fff" stroke="#000" stroke-width="1.05"/>
<rect x="517.24" y="711.71" width="5.4" height="5.4" fill="#fff" stroke="#000" stroke-width="1.05"/>
<rect x="518.78" y="710.89" width="5.4" height="5.4" fill="#fff" stroke="#000" stroke-width="1.05"/>
<rect x="520.32" y="711.89" width="5.4" height="5.4" fill="#fff" stroke="#000" stroke-width="1.05"/>
<rect x="521.86" y="716.22" width="5.4" height="5.4" fill="#fff" stroke="#000" stroke-width="1.05"/>
<rect x="523.4" y="719.61" width="5.4" height="5.4" fill="#fff" stroke="#000" stroke-width="1.05"/>
<rect x="524.94" y="712.65" width="5.4" height="5.4" fill="#fff" stroke="#000" stroke-width="1.05"/>
<rect x="526.48" y="713.45" width="5.4" height="5.4" fill="#fff" stroke="#000" stroke-width="1.05"/>
<rect x="528.02" y="713.29" width="5.4" height="5.4" fill="#fff" stroke="#000" stroke-width="1.05"/>
<rect x="529.56" y="710.31" width="5.4" height="5.4" fill="#fff" stroke="#000" stroke-width="1.05"/>
<rect x="531.1" y="716.46" width="5.4" height="5.4" fill="#fff" stroke="#000" stroke-width="1.05"/>
<rect x="532.64" y="708.11" width="5.4" height="5.4" fill="#fff" stroke="#000" stroke-width="1.05"/>
<rect x="534.18" y="710.49" width="5.4" height="5.4" fill="#fff" stroke="#000" stroke-width="1.05"/>
<rect x="535.72" y="715.06" width="5.4" height="5.4" fill="#fff" stroke="#000" stroke-width="1.05"/>
<rect x="537.26" y="709.3" width="5.4" height="5.4" fill="#fff" stroke="#000" stroke-width="1.05"/>
<rect x="538.8" y="708.76" width="5.4" height="5.4" fill="#fff" stroke="#000" stroke-width="1.05"/>
<rect x="540.34" y="707.88" width="5.4" height="5.4" fill="#fff" stroke="#000" stroke-width="1.05"/>
<rect x="541.88" y="710.89" width="5.4" height="5.4" fill="#fff" stroke="#000" stroke-width="1.05"/>
<rect x="543.42" y="711.2" width="5.4" height="5.4" fill="#fff" stroke="#000" stroke-width="1.05"/>
<rect x="544.96" y="707.57" width="5.4" height="5.4" fill="#fff" stroke="#000" stroke-width="1.05"/>
<rect x="546.5" y="709.79" width="5.4" height="5.4" fill="#fff" stroke="#000" stroke-width="1.05"/>
<rect x="548.04" y="708.65" width="5.4" height="5.4" fill="#fff" stroke="#000" stroke-width="1.05"/>
<rect x="549.58" y="710.18" width="5.4" height="5.4" fill="#fff" stroke="#000" stroke-width="1.05"/>
<rect x="551.12" y="713.94" width="5.4" height="5.4" fill="#fff" stroke="#000" stroke-width="1.05"/>
<rect x="552.66" y="711.9" width="5.4" height="5.4" fill="#fff" stroke="#000" stroke-width="1.05"/>
<rect x="554.2" y="712.67" width="5.4" height="5.4" fill="#fff" stroke="#000" stroke-width="1.05"/>
<rect x="555.74" y="711.69" width="5.4" height="5.4" fill="#fff" stroke="#000" stroke-width="1.05"/>
<rect x="557.28" y="711.94" width="5.4" height="5.4" fill="#fff" stroke="#000" stroke-width="1.05"/>
<rect x="558.82" y="712.21" width="5.4" height="5.4" fill="#fff" stroke="#000" stroke-width="1.05"/>
<rect x="560.36" y="713.67" width="5.4" height="5.4" fill="#fff" stroke="#000" stroke-width="1.05"/>
<rect x="561.9" y="711.59" width="5.4" height="5.4" fill="#fff" stroke="#000" stroke-width="1.05"/>
<rect x="563.44" y="714.38" width="5.4" height="5.4" fill="#fff" stroke="#000" stroke-width="1.05"/>
<rect x="564.98" y="718.72" width="5.4" height="5.4" fill="#fff" stroke="#000" stroke-width="1.05"/>
<rect x="566.52" y="713.19" width="5.4" height="5.4" fill="#fff" stroke="#000" stroke-width="1.05"/>
<rect x="568.06" y="712.82" width="5.4" height="5.4" fill="#fff" stroke="#000" stroke-width="1.05"/>
<rect x="569.6" y="712.29" width="5.4" height="5.4" fill="#fff" stroke="#000" stroke-width="1.05"/>
<rect x="571.14" y="710.99" width="5.4" height="5.4" fill="#fff" stroke="#000" stroke-width="1.05"/>
<rect x="572.68" y="712.07" width="5.4" height="5.4" fill="#fff" stroke="#000" stroke-width="1.05"/>
<rect x="574.22" y="714.68" width="5.4" height="5.4" fill="#fff" stroke="#000" stroke-width="1.05"/>
<rect x="575.76" y="714.47" width="5.4" height="5.4" fill="#fff" stroke="#000" stroke-width="1.05"/>
<rect x="577.3" y="711.09" width="5.4" height="5.4" fill="#fff" stroke="#000" stroke-width="1.05"/>
<rect x="578.84" y="714.37" width="5.4" height="5.4" fill="#fff" stroke="#000" stroke-width="1.05"/>
<rect x="580.38" y="709.13" width="5.4" height="5.4" fill="#fff" stroke="#000" stroke-width="1.05"/>
<rect x="581.92" y="713.49" width="5.4" height="5.4" fill="#fff" stroke="#000" stroke-width="1.05"/>
<rect x="583.46" y="710.83" width="5.4" height="5.4" fill="#fff" stroke="#000" stroke-width="1.05"/>
<rect x="585.0" y="708.8" width="5.4" height="5.4" fill="#fff" stroke="#000" stroke-width="1.05"/>
<rect x="586.54" y="710.15" width="5.4" height="5.4" fill="#fff" stroke="#000" stroke-width="1.05"/>
<rect x="588.08" y="708.17" width="5.4" height="5.4" fill="#fff" stroke="#000" stroke-width="1.05"/>
<rect x="589.62" y="709.36" width="5.4" height="5.4" fill="#fff" stroke="#000" stroke-width="1.05"/>
<rect x="591.16" y="711.42" width="5.4" height="5.4" fill="#fff" stroke="#000" stroke-width="1.05"/>
<rect x="592.7" y="709.63" width="5.4" height="5.4" fill="#fff" stroke="#000" stroke-width="1.05"/>
<rect x="594.24" y="709.83" width="5.4" height="5.4" fill="#fff" stroke="#000" stroke-width="1.05"/>
<rect x="595.78" y="709.19" width="5.4" height="5.4" fill="#fff" stroke="#000" stroke-width="1.05"/>
<rect x="597.32" y="708.54" width="5.4" height="5.4" fill="#fff" stroke="#000" stroke-width="1.05"/>
<rect x="598.86" y="711.37" width="5.4" height="5.4" fill="#fff" stroke="#000" stroke-width="1.05"/>
<rect x="600.4" y="717.19" width="5.4" height="5.4" fill="#fff" stroke="#000" stroke-width="1.05"/>
<rect x="601.94" y="709.37" width="5.4" height="5.4" fill="#fff" stroke="#000" stroke-width="1.05"/>
<rect x="603.48" y="713.4" width="5.4" height="5.4" fill="#fff" stroke="#000" stroke-width="1.05"/>
<rect x="605.02" y="710.89" width="5.4" height="5.4" fill="#fff" stroke="#000" stroke-width="1.05"/>
<rect x="606.56" y="709.86" width="5.4" height="5.4" fill="#fff" stroke="#000" stroke-width="1.05"/>
<rect x="608.1" y="711.47" width="5.4" height="5.4" fill="#fff" stroke="#000" stroke-width="1.05"/>
<rect x="609.64" y="711.26" width="5.4" height="5.4" fill="#fff" stroke="#000" stroke-width="1.05"/>
<rect x="611.18" y="711.71" width="5.4" height="5.4" fill="#fff" stroke="#000" stroke-width="1.05"/>
<rect x="612.72" y="714.01" width="5.4" height="5.4" fill="#fff" stroke="#000" stroke-width="1.05"/>
<rect x="614.26" y="713.34" width="5.4" height="5.4" fill="#fff" stroke="#000" stroke-width="1.05"/>
<rect x="615.8" y="713.11" width="5.4" height="5.4" fill="#fff" stroke="#000" stroke-width="1.05"/>
<rect x="617.34" y="716.3" width="5.4" height="5.4" fill="#fff" stroke="#000" stroke-width="1.05"/>
<rect x="618.88" y="711.43" width="5.4" height="5.4" fill="#fff" stroke="#000" stroke-width="1.05"/>
<rect x="620.42" y="712.74" width="5.4" height="5.4" fill="#fff" stroke="#000" stroke-width="1.05"/>
<rect x="621.96" y="709.18" width="5.4" height="5.4" fill="#fff" stroke="#000" stroke-width="1.05"/>
<rect x="623.5" y="711.78" width="5.4" height="5.4" fill="#fff" stroke="#000" stroke-width="1.05"/>
<rect x="625.04" y="713.18" width="5.4" height="5.4" fill="#fff" stroke="#000" stroke-width="1.05"/>
<rect x="626.58" y="716.36" width="5.4" height="5.4" fill="#fff" stroke="#000" stroke-width="1.05"/>
<rect x="628.12" y="716.49" width="5.4" height="5.4" fill="#fff" stroke="#000" stroke-width="1.05"/>
<rect x="629.66" y="712.88" width="5.4" height="5.4" fill="#fff" stroke="#000" stroke-width="1.05"/>
<rect x="631.2" y="716.25" width="5.4" height="5.4" fill="#fff" stroke="#000" stroke-width="1.05"/>
<rect x="632.74" y="714.69" width="5.4" height="5.4" fill="#fff" stroke="#000" stroke-width="1.05"/>
<rect x="634.28" y="712.45" width="5.4" height="5.4" fill="#fff" stroke="#000" stroke-width="1.05"/>
<rect x="635.82" y="711.9" width="5.4" height="5.4" fill="#fff" stroke="#000" stroke-width="1.05"/>
<rect x="637.36" y="709.33" width="5.4" height="5.4" fill="#fff" stroke="#000" stroke-width="1.05"/>
<rect x="638.9" y="709.83" width="5.4" height="5.4" fill="#fff" stroke="#000" stroke-width="1.05"/>
<rect x="640.44" y="713.97" width="5.4" height="5.4" fill="#fff" stroke="#000" stroke-width="1.05"/>
<rect x="641.98" y="719.35" width="5.4" height="5.4" fill="#fff" stroke="#000" stroke-width="1.05"/>
<rect x="643.52" y="710.62" width="5.4" height="5.4" fill="#fff" stroke="#000" stroke-width="1.05"/>
<rect x="645.06" y="714.47" width="5.4" height="5.4" fill="#fff" stroke="#000" stroke-width="1.05"/>
<path d="M427.7,703.3000000000001 L431.59999999999997,707.2 L427.7,711.1 L423.8,707.2 Z" fill="#000" stroke="none" stroke-width="1"/>
<path d="M432.6,701.1 L436.5,705 L432.6,708.9 L428.70000000000005,705 Z" fill="#000" stroke="none" stroke-width="1"/>
<path d="M436.6,706.9 L440.5,710.8 L436.6,714.6999999999999 L432.70000000000005,710.8 Z" fill="#000" stroke="none" stroke-width="1"/>
<path d="M441,711.8000000000001 L444.9,715.7 L441,719.6 L437.1,715.7 Z" fill="#000" stroke="none" stroke-width="1"/>
<path d="M445.4,710.4 L449.29999999999995,714.3 L445.4,718.1999999999999 L441.5,714.3 Z" fill="#000" stroke="none" stroke-width="1"/>
<path d="M449.4,694.0 L453.29999999999995,697.9 L449.4,701.8 L445.5,697.9 Z" fill="#000" stroke="none" stroke-width="1"/>
<path d="M454.3,701.5 L458.2,705.4 L454.3,709.3 L450.40000000000003,705.4 Z" fill="#000" stroke="none" stroke-width="1"/>
<path d="M458.8,703.3000000000001 L462.7,707.2 L458.8,711.1 L454.90000000000003,707.2 Z" fill="#000" stroke="none" stroke-width="1"/>
<path d="M463.2,707.8000000000001 L467.09999999999997,711.7 L463.2,715.6 L459.3,711.7 Z" fill="#000" stroke="none" stroke-width="1"/>
<path d="M467.7,704.2 L471.59999999999997,708.1 L467.7,712.0 L463.8,708.1 Z" fill="#000" stroke="none" stroke-width="1"/>
<path d="M472.1,706.0 L476.0,709.9 L472.1,713.8 L468.20000000000005,709.9 Z" fill="#000" stroke="none" stroke-width="1"/>
<path d="M476,684.5 L479.9,688.4 L476,692.3 L472.1,688.4 Z" fill="#000" stroke="none" stroke-width="1"/>
<path d="M478.7,686.3000000000001 L482.59999999999997,690.2 L478.7,694.1 L474.8,690.2 Z" fill="#000" stroke="none" stroke-width="1"/>
<path d="M481.3,688.5 L485.2,692.4 L481.3,696.3 L477.40000000000003,692.4 Z" fill="#000" stroke="none" stroke-width="1"/>
<path d="M485.3,677.0 L489.2,680.9 L485.3,684.8 L481.40000000000003,680.9 Z" fill="#000" stroke="none" stroke-width="1"/>
<path d="M489.3,683.2 L493.2,687.1 L489.3,691.0 L485.40000000000003,687.1 Z" fill="#000" stroke="none" stroke-width="1"/>
<path d="M494.2,682.8000000000001 L498.09999999999997,686.7 L494.2,690.6 L490.3,686.7 Z" fill="#000" stroke="none" stroke-width="1"/>
<path d="M498.7,689.4 L502.59999999999997,693.3 L498.7,697.1999999999999 L494.8,693.3 Z" fill="#000" stroke="none" stroke-width="1"/>
<path d="M503.0,678.0 L506.9,681.9 L503.0,685.8 L499.1,681.9 Z" fill="#000" stroke="none" stroke-width="1"/>
<path d="M507.6,667.6 L511.5,671.5 L507.6,675.4 L503.70000000000005,671.5 Z" fill="#000" stroke="none" stroke-width="1"/>
<path d="M511.8,655.9 L515.7,659.8 L511.8,663.6999999999999 L507.90000000000003,659.8 Z" fill="#000" stroke="none" stroke-width="1"/>
<path d="M516.1,647.3000000000001 L520.0,651.2 L516.1,655.1 L512.2,651.2 Z" fill="#000" stroke="none" stroke-width="1"/>
<path d="M520.5,643.3000000000001 L524.4,647.2 L520.5,651.1 L516.6,647.2 Z" fill="#000" stroke="none" stroke-width="1"/>
<path d="M524.9,659.7 L528.8,663.6 L524.9,667.5 L521.0,663.6 Z" fill="#000" stroke="none" stroke-width="1"/>
<path d="M529.6,633.1 L533.5,637 L529.6,640.9 L525.7,637 Z" fill="#000" stroke="none" stroke-width="1"/>
<path d="M533.9,637.9 L537.8,641.8 L533.9,645.6999999999999 L530.0,641.8 Z" fill="#000" stroke="none" stroke-width="1"/>
<path d="M537.9,637.9 L541.8,641.8 L537.9,645.6999999999999 L534.0,641.8 Z" fill="#000" stroke="none" stroke-width="1"/>
<path d="M542.7,624.4 L546.6,628.3 L542.7,632.1999999999999 L538.8000000000001,628.3 Z" fill="#000" stroke="none" stroke-width="1"/>
<path d="M546.9,617.7 L550.8,621.6 L546.9,625.5 L543.0,621.6 Z" fill="#000" stroke="none" stroke-width="1"/>
<path d="M551.7,608.2 L555.6,612.1 L551.7,616.0 L547.8000000000001,612.1 Z" fill="#000" stroke="none" stroke-width="1"/>
<path d="M555.9,624.8000000000001 L559.8,628.7 L555.9,632.6 L552.0,628.7 Z" fill="#000" stroke="none" stroke-width="1"/>
<path d="M560.4,604.7 L564.3,608.6 L560.4,612.5 L556.5,608.6 Z" fill="#000" stroke="none" stroke-width="1"/>
<path d="M564.5,599.2 L568.4,603.1 L564.5,607.0 L560.6,603.1 Z" fill="#000" stroke="none" stroke-width="1"/>
<path d="M569.2,614.2 L573.1,618.1 L569.2,622.0 L565.3000000000001,618.1 Z" fill="#000" stroke="none" stroke-width="1"/>
<path d="M573.5,596.9 L577.4,600.8 L573.5,604.6999999999999 L569.6,600.8 Z" fill="#000" stroke="none" stroke-width="1"/>
<path d="M577.7,591.2 L581.6,595.1 L577.7,599.0 L573.8000000000001,595.1 Z" fill="#000" stroke="none" stroke-width="1"/>
<path d="M582.5,599.2 L586.4,603.1 L582.5,607.0 L578.6,603.1 Z" fill="#000" stroke="none" stroke-width="1"/>
<path d="M586.5,591.7 L590.4,595.6 L586.5,599.5 L582.6,595.6 Z" fill="#000" stroke="none" stroke-width="1"/>
<path d="M590.8,592.8000000000001 L594.6999999999999,596.7 L590.8,600.6 L586.9,596.7 Z" fill="#000" stroke="none" stroke-width="1"/>
<path d="M595.5,601.6 L599.4,605.5 L595.5,609.4 L591.6,605.5 Z" fill="#000" stroke="none" stroke-width="1"/>
<path d="M599.5,579.3000000000001 L603.4,583.2 L599.5,587.1 L595.6,583.2 Z" fill="#000" stroke="none" stroke-width="1"/>
<path d="M604.3,591.7 L608.1999999999999,595.6 L604.3,599.5 L600.4,595.6 Z" fill="#000" stroke="none" stroke-width="1"/>
<path d="M608.6,594.0 L612.5,597.9 L608.6,601.8 L604.7,597.9 Z" fill="#000" stroke="none" stroke-width="1"/>
<path d="M613.1,589.8000000000001 L617.0,593.7 L613.1,597.6 L609.2,593.7 Z" fill="#000" stroke="none" stroke-width="1"/>
<path d="M617.3,591.7 L621.1999999999999,595.6 L617.3,599.5 L613.4,595.6 Z" fill="#000" stroke="none" stroke-width="1"/>
<path d="M622.1,580.3000000000001 L626.0,584.2 L622.1,588.1 L618.2,584.2 Z" fill="#000" stroke="none" stroke-width="1"/>
<path d="M626.3,572.2 L630.1999999999999,576.1 L626.3,580.0 L622.4,576.1 Z" fill="#000" stroke="none" stroke-width="1"/>
<path d="M630.8,588.8000000000001 L634.6999999999999,592.7 L630.8,596.6 L626.9,592.7 Z" fill="#000" stroke="none" stroke-width="1"/>
<path d="M635.1,582.6 L639.0,586.5 L635.1,590.4 L631.2,586.5 Z" fill="#000" stroke="none" stroke-width="1"/>
<path d="M639.8,585.7 L643.6999999999999,589.6 L639.8,593.5 L635.9,589.6 Z" fill="#000" stroke="none" stroke-width="1"/>
<path d="M644.1,587.4 L648.0,591.3 L644.1,595.1999999999999 L640.2,591.3 Z" fill="#000" stroke="none" stroke-width="1"/>
<path d="M648.6,593.5 L652.5,597.4 L648.6,601.3 L644.7,597.4 Z" fill="#000" stroke="none" stroke-width="1"/>
<line x1="428.2" y1="571.25" x2="428.2" y2="745.55" stroke="#000" stroke-width="1.9"/>
<line x1="428.2" y1="572.0" x2="432.5" y2="572.0" stroke="#000" stroke-width="1.8"/>
<text x="414.9" y="577.3" font-size="14.7" font-weight="bold" text-anchor="end" fill="#000">1.2</text>
<line x1="428.2" y1="606.56" x2="432.5" y2="606.56" stroke="#000" stroke-width="1.8"/>
<text x="414.9" y="611.8599999999999" font-size="14.7" font-weight="bold" text-anchor="end" fill="#000">1.15</text>
<line x1="428.2" y1="641.12" x2="432.5" y2="641.12" stroke="#000" stroke-width="1.8"/>
<text x="414.9" y="646.42" font-size="14.7" font-weight="bold" text-anchor="end" fill="#000">1.1</text>
<line x1="428.2" y1="675.68" x2="432.5" y2="675.68" stroke="#000" stroke-width="1.8"/>
<text x="414.9" y="680.9799999999999" font-size="14.7" font-weight="bold" text-anchor="end" fill="#000">1.05</text>
<line x1="428.2" y1="710.24" x2="432.5" y2="710.24" stroke="#000" stroke-width="1.8"/>
<text x="414.9" y="715.54" font-size="14.7" font-weight="bold" text-anchor="end" fill="#000">1</text>
<text x="414.9" y="750.0999999999999" font-size="14.7" font-weight="bold" text-anchor="end" fill="#000">0.95</text>
<line x1="427.45" y1="744.8" x2="648.95" y2="744.8" stroke="#000" stroke-width="1.9"/>
<text x="0" y="0" font-size="14.6" font-weight="bold" text-anchor="middle" fill="#000" transform="translate(428.2 767.9) scale(1.0 1.02)">-50</text>
<line x1="472.2" y1="744.8" x2="472.2" y2="740.5" stroke="#000" stroke-width="1.8"/>
<text x="0" y="0" font-size="14.6" font-weight="bold" text-anchor="middle" fill="#000" transform="translate(472.2 767.9) scale(1.0 1.02)">0</text>
<line x1="516.2" y1="744.8" x2="516.2" y2="740.5" stroke="#000" stroke-width="1.8"/>
<text x="0" y="0" font-size="14.6" font-weight="bold" text-anchor="middle" fill="#000" transform="translate(516.2 767.9) scale(1.0 1.02)">50</text>
<line x1="560.2" y1="744.8" x2="560.2" y2="740.5" stroke="#000" stroke-width="1.8"/>
<text x="0" y="0" font-size="14.6" font-weight="bold" text-anchor="middle" fill="#000" transform="translate(560.2 767.9) scale(1.0 1.02)">100</text>
<line x1="604.2" y1="744.8" x2="604.2" y2="740.5" stroke="#000" stroke-width="1.8"/>
<text x="0" y="0" font-size="14.6" font-weight="bold" text-anchor="middle" fill="#000" transform="translate(604.2 767.9) scale(1.0 1.02)">150</text>
<line x1="648.2" y1="744.8" x2="648.2" y2="740.5" stroke="#000" stroke-width="1.8"/>
<text x="0" y="0" font-size="14.6" font-weight="bold" text-anchor="middle" fill="#000" transform="translate(648.2 767.9) scale(1.0 1.02)">200</text>
<text x="538.5" y="789.0" font-size="15" font-weight="bold" text-anchor="middle" fill="#000">Time (min)</text>
<text x="371.2" y="660.5" font-size="15" font-weight="bold" text-anchor="middle" fill="#000" transform="rotate(-90 371.2 660.5)">Normalized ECFP/FRET ratio</text>
<path d="M444.3,567.2 L448.2,571.1 L444.3,575.0 L440.40000000000003,571.1 Z" fill="#000" stroke="none" stroke-width="1"/>
<circle cx="444.3" cy="591.9" r="3" fill="#fff" stroke="#000" stroke-width="1"/>
<rect x="441.6" y="609.9" width="5.4" height="5.4" fill="#fff" stroke="#000" stroke-width="1"/>
<text x="451.4" y="575.8" font-size="14.9" font-weight="bold" text-anchor="start" fill="#000">WT</text>
<text x="451.4" y="596.6" font-size="14.9" font-weight="bold" text-anchor="start" fill="#000">Y751F</text>
<text x="451.4" y="617.4" font-size="14.9" font-weight="bold" text-anchor="start" fill="#000">R45V</text>
<text x="447.0" y="659.7" font-size="14.9" font-weight="bold" text-anchor="start" fill="#000">PDGF</text>
<line x1="471.1" y1="666.2" x2="471.1" y2="691.5" stroke="#000" stroke-width="1.3"/>
<path d="M466,683.2 L471.1,692 L476.2,683.2" fill="none" stroke="#000" stroke-width="1.3"/></svg></body></html>
